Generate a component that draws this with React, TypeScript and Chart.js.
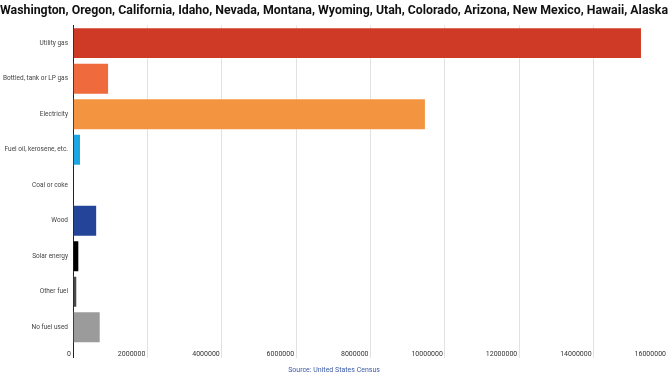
import React, { useEffect, useRef } from "react";
import { Chart, registerables } from "chart.js";

Chart.register(...registerables);

const TITLE = "Washington, Oregon, California, Idaho, Nevada, Montana, Wyoming, Utah, Colorado, Arizona, New Mexico, Hawaii, Alaska";
const SOURCE = "Source: United States Census";

const categories = [
  "Utility gas",
  "Bottled, tank or LP gas",
  "Electricity",
  "Fuel oil, kerosene, etc.",
  "Coal or coke",
  "Wood",
  "Solar energy",
  "Other fuel",
  "No fuel used",
];

const values = [15300000, 970000, 9490000, 215000, 20000, 650000, 170000, 115000, 745000];

const barColors = [
  "#cf3a27",
  "#ef6a3d",
  "#f39440",
  "#1ba7e1",
  "#1c2b4c",
  "#24449a",
  "#000000",
  "#4a4a4a",
  "#9b9b9b",
];

const xMin = 0;
const xMax = 16000000;
const xStep = 2000000;

const FONT = "Roboto, 'Open Sans', sans-serif";

export default function App() {
  const ref = useRef<HTMLCanvasElement | null>(null);

  useEffect(() => {
    document.body.style.margin = "0";
    if (!ref.current) return;
    const chart = new Chart(ref.current, {
      type: "bar",
      data: {
        labels: categories,
        datasets: [
          {
            data: values,
            backgroundColor: barColors,
            borderColor: "rgba(255,255,255,0.35)",
            borderWidth: 1,
            categoryPercentage: 1,
            barPercentage: 0.9,
          },
        ],
      },
      options: {
        indexAxis: "y",
        animation: false,
        responsive: false,
        maintainAspectRatio: false,
        layout: { padding: { left: 0, right: 0, top: 0, bottom: 0 } },
        plugins: {
          legend: { display: false },
          tooltip: { enabled: false },
          title: {
            display: true,
            text: TITLE,
            color: "#111",
            font: { family: FONT, size: 12.4, weight: "bold" },
            padding: { top: 3.5, bottom: 7 },
          },
          subtitle: {
            display: true,
            position: "bottom",
            text: SOURCE,
            color: "#3b5ba5",
            font: { family: FONT, size: 7 },
            padding: { top: 0.8, bottom: 1.8 },
          },
        },
        scales: {
          x: {
            type: "linear",
            min: xMin,
            max: xMax,
            border: { display: false },
            afterFit: (scale: any) => {
              scale.height = 20;
            },
            grid: {
              color: (ctx: any) => (ctx.index === 0 ? "#222" : "#e2e2e2"),
              lineWidth: 1,
              drawTicks: true,
              tickLength: 13,
            },
            ticks: {
              stepSize: xStep,
              autoSkip: false,
              align: "end",
              labelOffset: -2,
              padding: -8,
              color: "#333",
              font: { family: FONT, size: 7 },
              maxRotation: 0,
              minRotation: 0,
              callback: (value: any) => String(value),
            },
          },
          y: {
            border: { display: true, color: "#222", width: 1 },
            grid: { display: false, drawTicks: false, tickLength: 0 },
            afterFit: (scale: any) => {
              scale.width = 73;
            },
            ticks: {
              color: "#444",
              padding: 5,
              font: { family: FONT, size: 6.5 },
            },
          },
        },
      },
    });
    return () => chart.destroy();
  }, []);

  return (
    <div style={{ width: 668, height: 376 }}>
      <canvas ref={ref} width={668} height={376} style={{ display: "block" }} />
    </div>
  );
}
